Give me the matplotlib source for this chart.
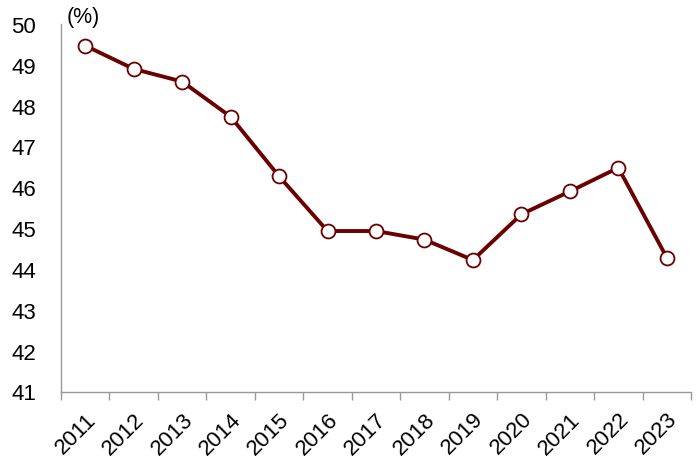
import matplotlib
matplotlib.use("Agg")
import matplotlib.pyplot as plt
import numpy as np

years = ["2011", "2012", "2013", "2014", "2015", "2016", "2017",
         "2018", "2019", "2020", "2021", "2022", "2023"]
values = [49.47, 48.90, 48.59, 47.73, 46.27, 44.93, 44.93,
          44.72, 44.22, 45.34, 45.90, 46.48, 44.28]
yticks = [41, 42, 43, 44, 45, 46, 47, 48, 49, 50]

plt.rcParams['font.family'] = ['Liberation Sans', 'DejaVu Sans']

fig = plt.figure(figsize=(7, 4.64), dpi=100)
ax = fig.add_axes([61/700, 1 - 392.5/464, 630/700, 367.5/464])

x = np.arange(len(years))
ax.plot(x, values, color='#6B0000', lw=2.8, marker='o', ms=10,
        mfc='white', mec='#6B0000', mew=1.3, zorder=3)

ax.set_xlim(-0.5, len(years) - 0.5)
ax.set_ylim(41, 50)
ax.set_yticks(yticks)
ax.set_yticklabels([str(v) for v in yticks], fontsize=16)
ax.tick_params(axis='y', length=0, pad=18)

ax.set_xticks(x)
ax.set_xticklabels(years, rotation=45, ha='right', rotation_mode='anchor', fontsize=16)
ax.tick_params(axis='x', which='major', length=0, pad=12)
ax.set_xticks(np.arange(-0.5, len(years) + 0.5, 1), minor=True)
ax.tick_params(axis='x', which='minor', length=6, color='#999999', width=1)

for s in ['top', 'right']:
    ax.spines[s].set_visible(False)
for s in ['left', 'bottom']:
    ax.spines[s].set_color('#999999')
    ax.spines[s].set_linewidth(1)

fig.text(67/700, 1 - 17/464, "(%)", fontsize=15.5, va='center', ha='left')

fig.savefig("out.png", dpi=100)
